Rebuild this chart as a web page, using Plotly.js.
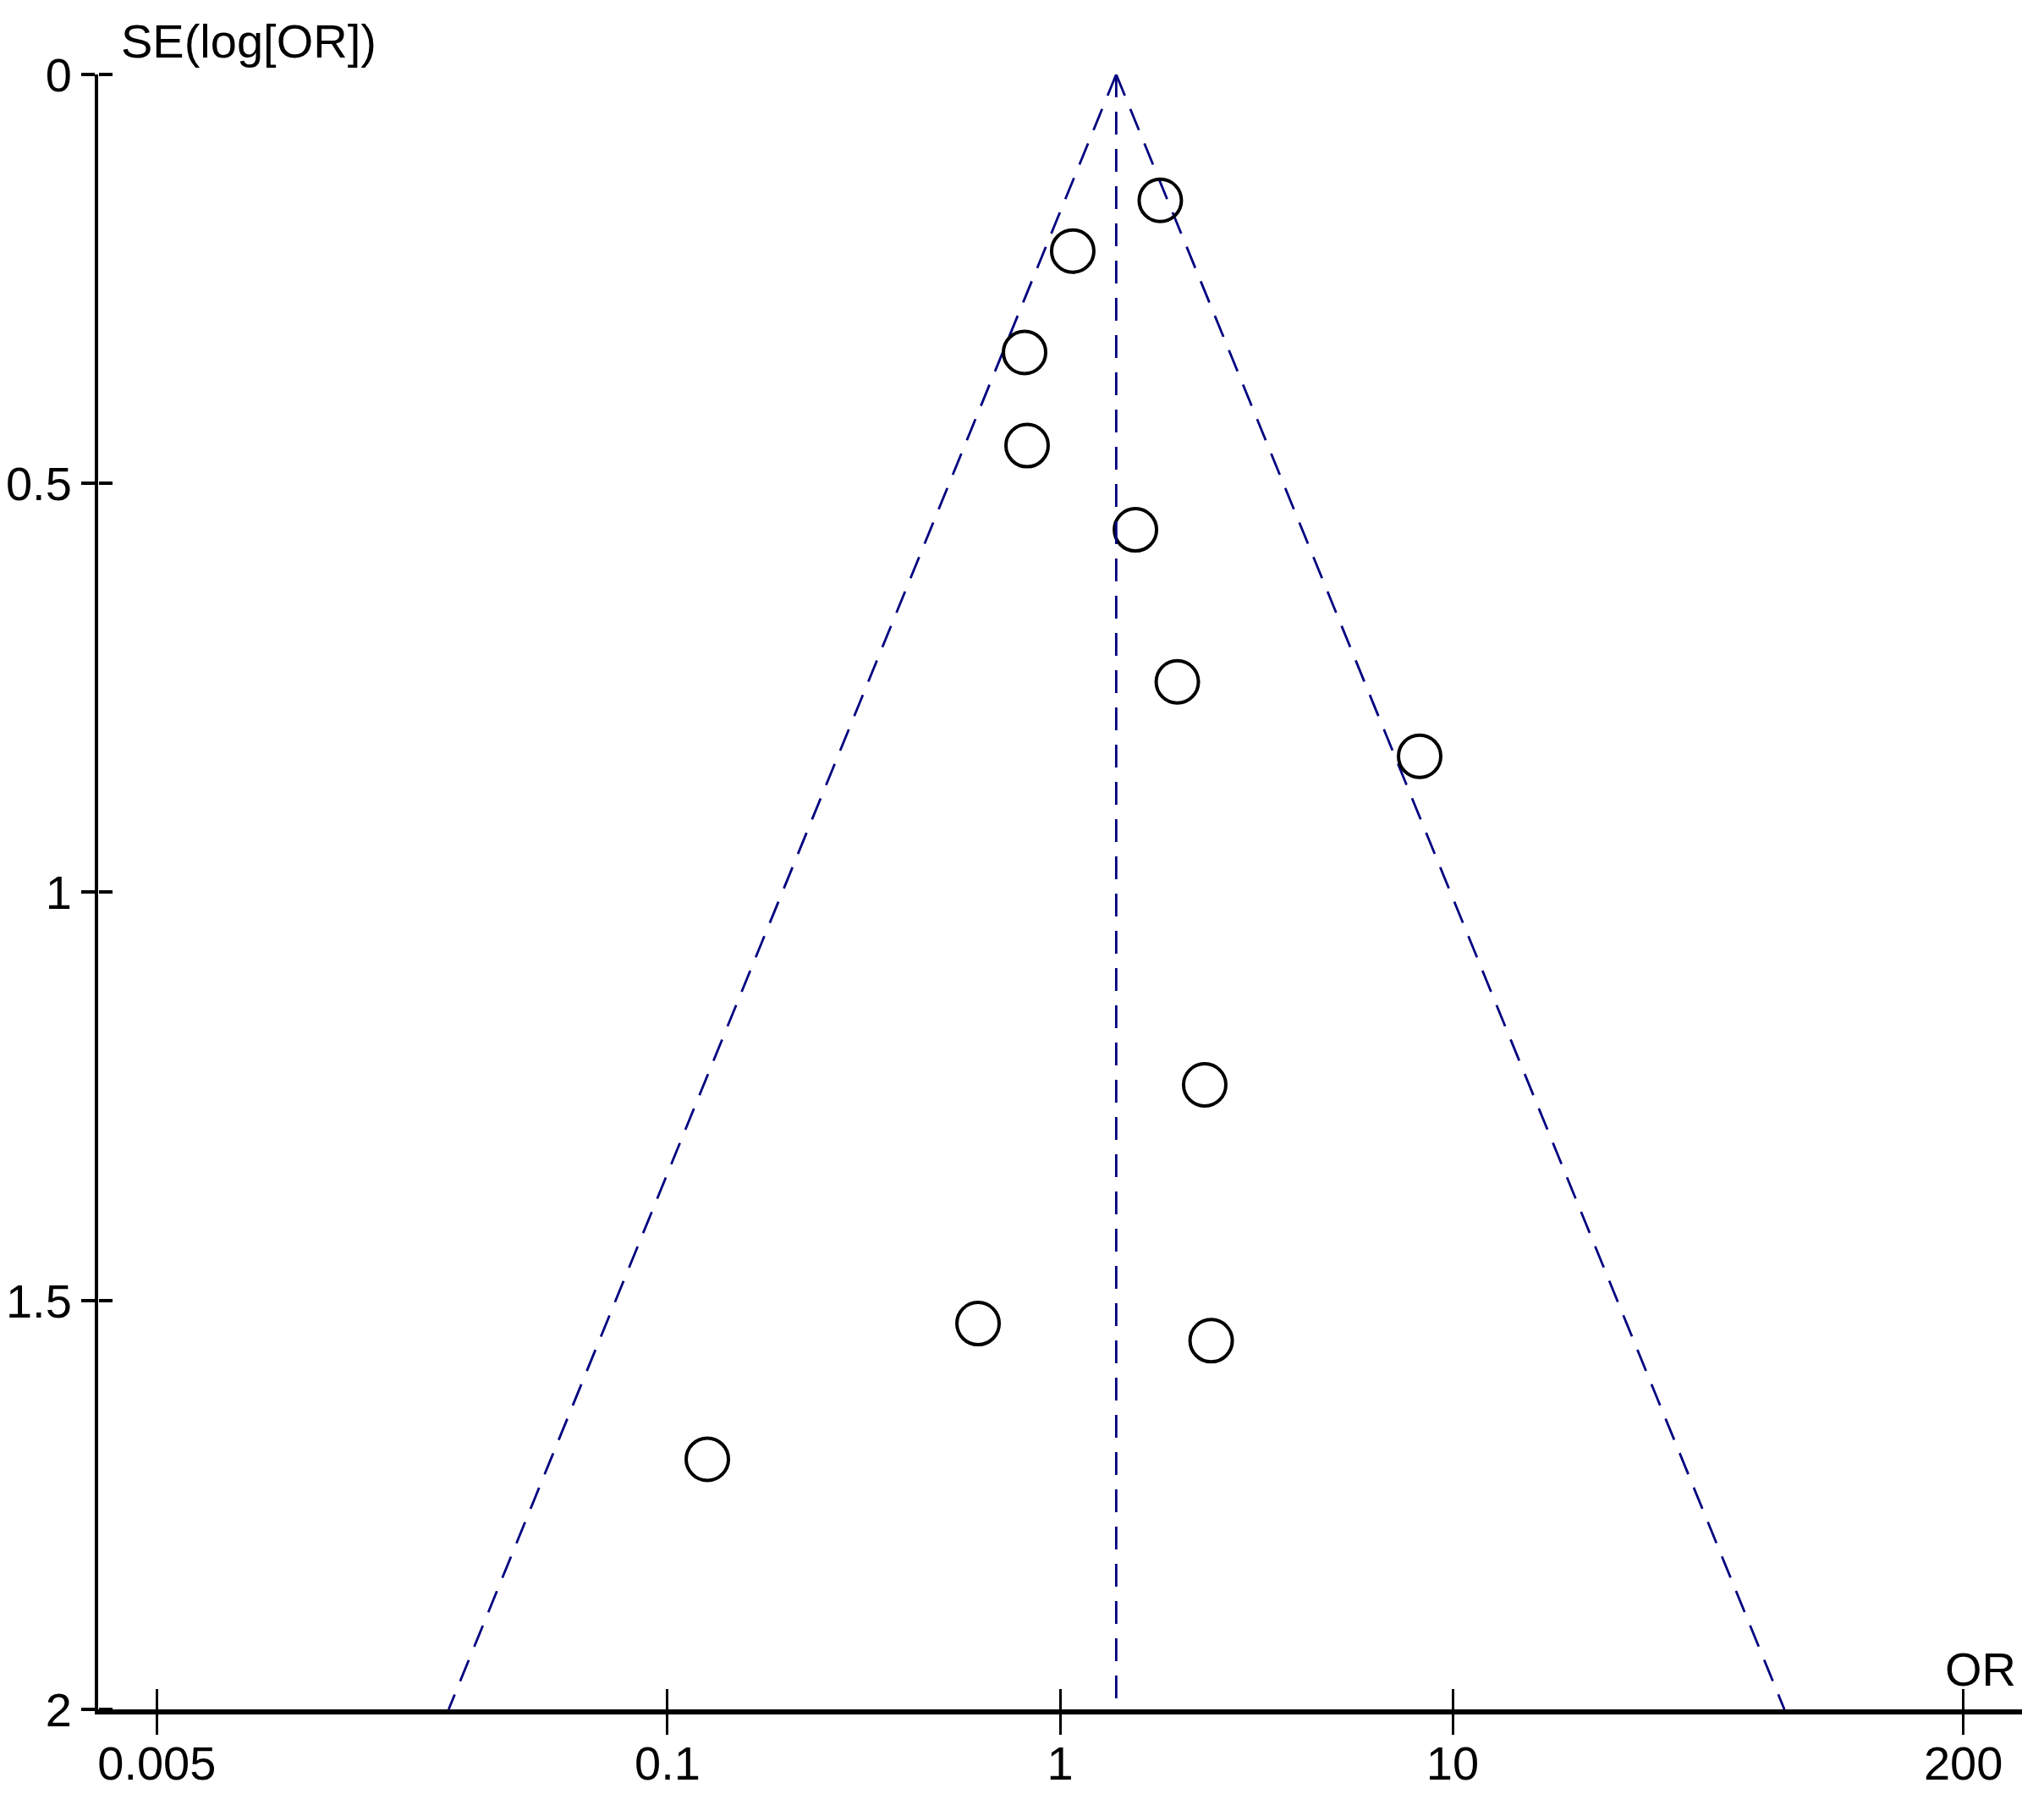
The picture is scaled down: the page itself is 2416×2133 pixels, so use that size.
<!DOCTYPE html>
<html>
<head>
<meta charset="utf-8">
<script src="https://cdn.plot.ly/plotly-3.0.1.min.js"></script>
<style>
  html, body { margin: 0; padding: 0; background: #ffffff; }
  #chart { width: 2416px; height: 2133px; }
</style>
</head>
<body>
<div id="chart"></div>
<script>
// Study points
const studyOR = [1.80, 1.077, 0.812, 0.824, 1.556, 1.989, 8.24, 2.336, 0.618, 2.426, 0.1263];
const studySE = [0.154, 0.216, 0.340, 0.454, 0.557, 0.743, 0.834, 1.236, 1.528, 1.549, 1.694];

// Funnel (pooled estimate and 95% limits)
const funnelSE = [0, 2];
const pooledOR = [1.39, 1.39];
const funnelLeftOR = [1.39, 0.0277];
const funnelRightOR = [1.39, 70];

// Axis ticks
const xTickVals = [0.005, 0.1, 1, 10, 200];
const xTickText = ['0.005', '0.1', '1', '10', '200'];
const yTickVals = [0, 0.5, 1, 1.5, 2];
const yTickText = ['0', '0.5', '1', '1.5', '2'];

const FONT = 'Liberation Sans, Arial, sans-serif';
const FSIZE = 56;
const navy = '#000080';
const dashStyle = '27px,17px';

const traces = [
  {
    x: funnelLeftOR, y: funnelSE, mode: 'lines', type: 'scatter',
    line: { color: navy, width: 2.8, dash: dashStyle }, hoverinfo: 'skip', showlegend: false
  },
  {
    x: funnelRightOR, y: funnelSE, mode: 'lines', type: 'scatter',
    line: { color: navy, width: 2.8, dash: dashStyle }, hoverinfo: 'skip', showlegend: false
  },
  {
    x: pooledOR, y: funnelSE, mode: 'lines', type: 'scatter',
    xaxis: 'x2', yaxis: 'y2',
    line: { color: navy, width: 2.8, dash: dashStyle }, hoverinfo: 'skip', showlegend: false
  },
  {
    x: studyOR, y: studySE, mode: 'markers', type: 'scatter',
    marker: { symbol: 'circle-open', size: 50, color: '#000000', line: { color: '#000000', width: 4 } },
    showlegend: false
  }
];

const xRange = [-2.4504, 2.4504];
const yRange = [2, 0];

const layout = {
  width: 2416, height: 2133,
  paper_bgcolor: '#ffffff', plot_bgcolor: '#ffffff',
  margin: { l: 116, r: 26, t: 88, b: 113 },
  showlegend: false,
  font: { family: FONT, size: FSIZE, color: '#000000' },
  xaxis: {
    type: 'log', range: xRange, fixedrange: true,
    showgrid: false, zeroline: false,
    showline: true, linecolor: '#000000', linewidth: 6,
    ticks: 'outside', ticklen: 24, tickwidth: 3, tickcolor: '#000000',
    tickmode: 'array', tickvals: xTickVals, ticktext: xTickText,
    tickfont: { family: FONT, size: FSIZE, color: '#000000' },
    ticklabelstandoff: -14
  },
  yaxis: {
    range: yRange, fixedrange: true,
    showgrid: false, zeroline: false,
    showline: true, linecolor: '#000000', linewidth: 4,
    ticks: 'outside', ticklen: 16, tickwidth: 4, tickcolor: '#000000',
    tickmode: 'array', tickvals: yTickVals, ticktext: yTickText,
    tickfont: { family: FONT, size: FSIZE, color: '#000000' },
    ticklabelstandoff: 0
  },
  xaxis2: {
    type: 'log', range: xRange, overlaying: 'x', anchor: 'free', position: 0, side: 'top', fixedrange: true,
    showgrid: false, zeroline: false, showline: false,
    ticks: 'outside', ticklen: 24, tickwidth: 3, tickcolor: '#000000',
    tickmode: 'array', tickvals: xTickVals, showticklabels: false
  },
  yaxis2: {
    range: yRange, overlaying: 'y', anchor: 'free', position: 0, side: 'right', fixedrange: true,
    showgrid: false, zeroline: false, showline: false,
    ticks: 'outside', ticklen: 16, tickwidth: 4, tickcolor: '#000000',
    tickmode: 'array', tickvals: yTickVals, showticklabels: false
  },
  annotations: [
    {
      text: 'SE(log[OR])', xref: 'paper', yref: 'paper',
      x: 0.011, y: 1.0, xanchor: 'left', yanchor: 'bottom', yshift: 6,
      showarrow: false, font: { family: FONT, size: FSIZE, color: '#000000' }
    },
    {
      text: 'OR', xref: 'paper', yref: 'paper',
      x: 0.998, y: 0, xanchor: 'right', yanchor: 'bottom', yshift: 14,
      showarrow: false, font: { family: FONT, size: FSIZE, color: '#000000' }
    }
  ]
};

Plotly.newPlot('chart', traces, layout, { displayModeBar: false, staticPlot: true });
</script>
</body>
</html>
